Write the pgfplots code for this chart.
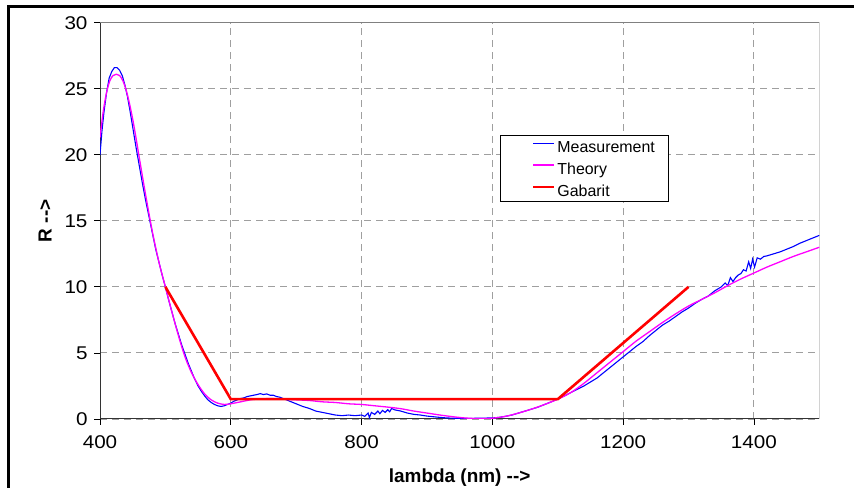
\documentclass[border=0pt]{standalone}
\usepackage{pgfplots}
\pgfplotsset{compat=1.18}
\usepackage{fontspec}
\setmainfont{Liberation Sans}
\newfontfamily\tickfont{Liberation Sans}[FakeStretch=1.12]

\definecolor{meas}{RGB}{0,0,255}
\definecolor{theo}{RGB}{255,0,255}
\definecolor{gab}{RGB}{255,0,0}

\begin{document}
\begin{tikzpicture}[x=1bp,y=1bp]
\useasboundingbox (0,0) rectangle (854,488);
% outer chart frame (cut off at right and bottom)
\draw[line width=2.7bp] (8.7,-30) -- (8.7,481.7) -- (900,481.7);
\begin{axis}[
  at={(100bp,69bp)}, anchor=south west,
  scale only axis, width=719.3bp, height=396.3bp,
  xmin=400, xmax=1500, ymin=0, ymax=30,
  axis lines=left,
  axis line style={-, black!80, line width=1bp},
  xtick={400,600,...,1400},
  ytick={0,5,...,30},
  tick align=outside,
  major tick length=6bp,
  tick style={black, line width=0.8bp},
  grid=major,
  grid style={gray!75, line width=0.9bp, dash pattern=on 7bp off 5bp},
  /pgf/number format/assume math mode=true,
  /pgf/number format/1000 sep={},
  ticklabel style={font=\tickfont\fontsize{18.5}{18.5}\selectfont},
  xticklabel style={yshift=-7bp},
  yticklabel style={xshift=-3bp},
  xlabel={lambda (nm) -{}-{}>},
  ylabel={R -{}-{}>},
  label style={font=\fontsize{19}{19}\selectfont\bfseries},
  xlabel style={at={(axis description cs:0.5,0)}, anchor=base, yshift=-64bp},
  ylabel style={at={(axis description cs:0,0.5)}, anchor=center, yshift=55bp},
  legend style={at={(axis description cs:0.5561,0.7166)}, anchor=north west,
    draw=black, line width=0.8bp, fill=white,
    font=\fontsize{16}{16}\selectfont,
    inner xsep=14bp, inner ysep=0bp, row sep=0bp,
    nodes={inner sep=0pt, text height=17bp, text depth=5bp}},
  legend cell align=left,
  legend image code/.code={\path[draw=none,fill=none] (-19bp,-5bp) rectangle (24bp,5bp);
    \draw[#1] (0bp,0.33em) -- (21bp,0.33em);},
]
\draw[gray, line width=1bp] (rel axis cs:0,1) -- (rel axis cs:1,1) -- (rel axis cs:1,0);

\addplot[meas, line width=1.1bp] coordinates {
(400,20.0) (403,21.8) (406,23.2) (410,24.7) (414,25.8) (418,26.3) (422,26.6)
(426,26.6) (430,26.4) (434,26.0) (438,25.3) (442,24.4) (446,23.3) (450,22.1)
(455,20.6) (460,19.2) (465,17.8) (470,16.5) (475,15.3) (480,14.1) (485,12.9)
(490,11.9) (495,10.9) (500,10.0) (505,9.0) (510,8.1) (515,7.2) (520,6.4)
(525,5.6) (530,4.9) (535,4.2) (540,3.6) (545,3.0) (550,2.5) (555,2.1)
(560,1.75) (565,1.45) (570,1.25) (575,1.1) (580,1.0) (585,0.95) (590,1.0)
(595,1.1) (600,1.2) (605,1.35) (610,1.45) (615,1.55) (620,1.6) (625,1.7)
(630,1.75) (635,1.8) (640,1.85) (645,1.92) (650,1.85) (655,1.9) (660,1.8)
(665,1.8) (670,1.7) (675,1.65) (680,1.55) (690,1.35) (700,1.15) (710,0.95)
(720,0.8) (730,0.6) (740,0.5) (750,0.4) (760,0.3) (770,0.25) (780,0.3)
(790,0.25) (800,0.3) (805,0.2) (810,0.45) (812,0.1) (815,0.5) (820,0.35)
(825,0.6) (828,0.4) (832,0.65) (836,0.5) (840,0.7) (843,0.55) (846,0.8)
(850,0.7) (855,0.65) (860,0.6) (870,0.45) (880,0.35) (890,0.3) (900,0.22)
(910,0.17) (920,0.12) (930,0.08) (940,0.06) (950,0.05) (960,0.05) (970,0.05)
(980,0.06) (990,0.07) (1000,0.08) (1010,0.12) (1020,0.2) (1030,0.3) (1040,0.45)
(1050,0.6) (1060,0.75) (1070,0.9) (1080,1.1) (1090,1.3) (1100,1.5) (1110,1.75)
(1120,2.0) (1130,2.25) (1140,2.5) (1150,2.8) (1160,3.1) (1170,3.5) (1180,3.9)
(1190,4.3) (1200,4.7) (1210,5.1) (1220,5.5) (1230,5.85) (1240,6.3) (1250,6.7)
(1260,7.1) (1270,7.4) (1280,7.75) (1290,8.1) (1300,8.4) (1310,8.75) (1320,9.05)
(1330,9.3) (1340,9.7) (1350,10.0) (1356,10.3) (1360,10.1) (1364,10.7) (1368,10.4)
(1372,10.7) (1376,10.9) (1380,11.0) (1384,11.3) (1388,11.2) (1392,11.9)
(1395,11.4) (1398,12.1) (1401,11.5) (1405,12.2) (1410,12.1) (1415,12.3)
(1420,12.35) (1430,12.5) (1440,12.65) (1450,12.85) (1460,13.05) (1470,13.3)
(1480,13.5) (1490,13.7) (1500,13.9)
};
\addlegendentry{Measurement}

\addplot[theo, line width=1.3bp, smooth] coordinates {
(400,21.3) (405,23.3) (410,24.7) (415,25.6) (420,26.0) (425,26.1) (430,26.0)
(435,25.6) (440,24.9) (445,23.9) (450,22.7) (455,21.3) (460,19.8) (470,16.9)
(480,14.2) (490,11.9) (500,10.0) (510,8.1) (520,6.3) (530,4.7) (540,3.5)
(550,2.6) (560,1.9) (570,1.45) (580,1.2) (590,1.1) (600,1.15) (610,1.25)
(620,1.35) (630,1.45) (640,1.5) (660,1.55) (680,1.5) (700,1.45) (720,1.4)
(740,1.3) (760,1.25) (780,1.15) (800,1.1) (820,1.0) (840,0.9) (860,0.78)
(880,0.6) (900,0.45) (920,0.3) (940,0.17) (960,0.07) (980,0.03) (1000,0.06)
(1020,0.2) (1040,0.45) (1060,0.75) (1080,1.1) (1100,1.5) (1120,2.0) (1140,2.7)
(1160,3.5) (1180,4.3) (1200,5.1) (1220,5.9) (1240,6.6) (1260,7.3) (1280,7.95)
(1300,8.55) (1320,9.05) (1340,9.55) (1360,10.1) (1380,10.6) (1400,11.05)
(1420,11.5) (1440,11.9) (1460,12.3) (1480,12.65) (1500,13.0)
};
\addlegendentry{Theory}

\addplot[gab, line width=2.6bp] coordinates {
(500,10) (600,1.5) (1100,1.5) (1300,10)
};
\addlegendentry{Gabarit}
\end{axis}
\end{tikzpicture}
\end{document}
